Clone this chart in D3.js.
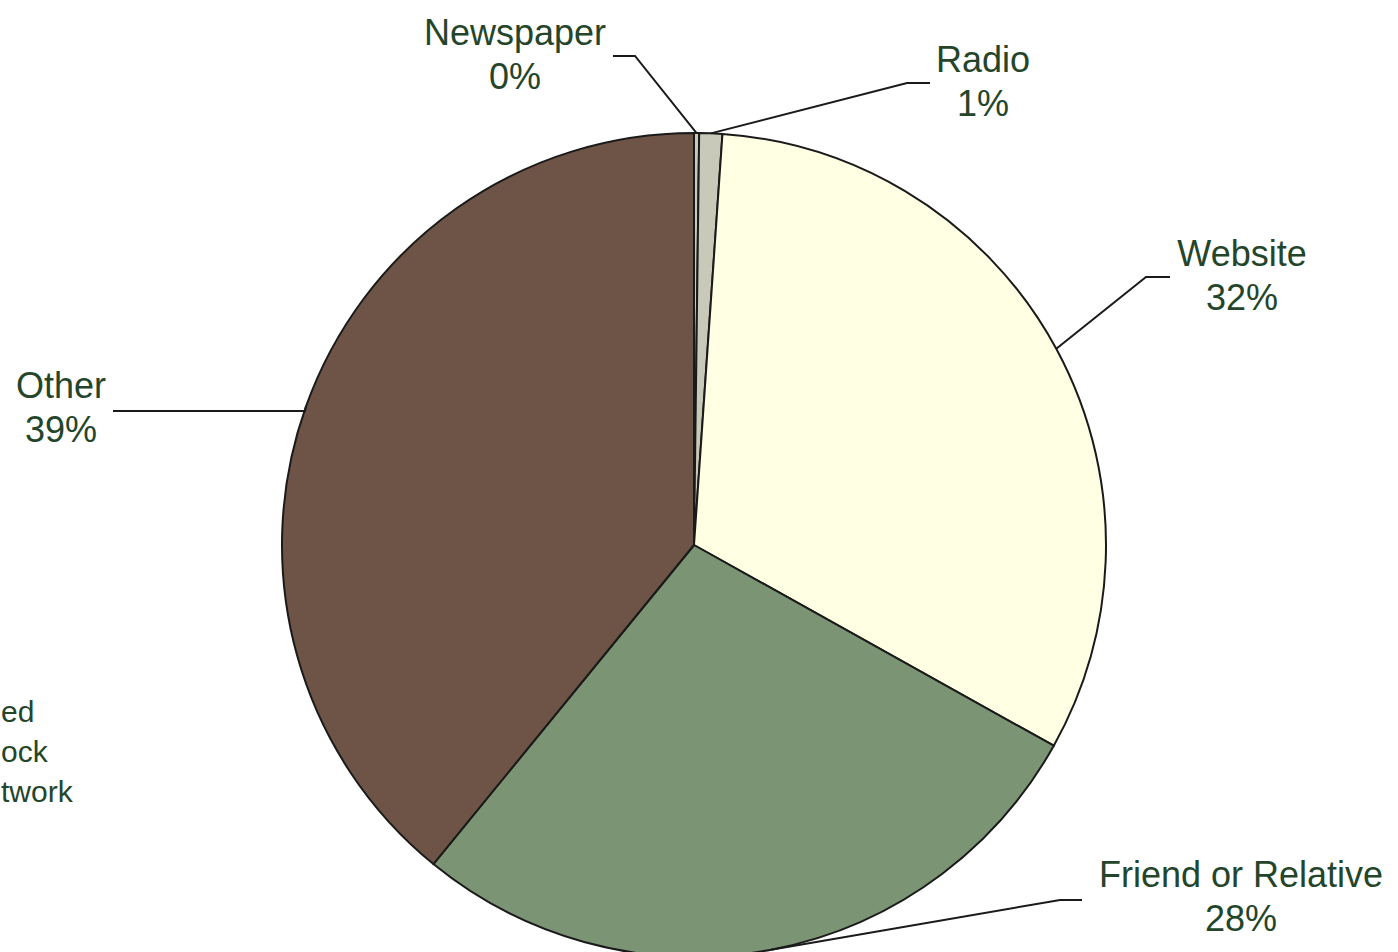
<!DOCTYPE html>
<html>
<head>
<meta charset="utf-8">
<script src="https://cdn.jsdelivr.net/npm/d3@7"></script>
<style>
  html, body { margin: 0; padding: 0; background: #ffffff; }
  svg { display: block; }
  text { font-family: "Liberation Sans", Arial, sans-serif; }
</style>
</head>
<body>
<svg id="chart" width="1398" height="952"></svg>
<script>
// ---- data ----
const categories = ["Newspaper", "Radio", "Website", "Friend or Relative", "Other"];
const values = [0.2, 0.9, 32.0, 27.8, 39.1];
const colors = ["#c9c9b9", "#c9c9b9", "#ffffe3", "#7a9474", "#6e5446"];
const noteLines = ["ed", "ock", "twork"];

// ---- layout ----
const W = 1398, H = 952;
const cx = 694, cy = 545, R = 412;
// label layout: [text center x, first baseline y, elbow x, elbow y, end x]
const labelLayout = [
  [515, 45, 635, 56, 613],
  [983, 72, 907, 83, 930],
  [1242, 266, 1146, 277, 1170],
  [1241, 887, 1060, 900, 1082],
  [61, 398, 305, 411, 113]
];
const textColor = "#24452a";
const fontSize = 36;
const lineGap = 44;

const svg = d3.select("#chart");
const g = svg.append("g").attr("transform", `translate(${cx},${cy})`);

const data = categories.map((c, i) => ({ name: c, value: values[i], color: colors[i] }));
const total = d3.sum(values);
const pie = d3.pie().sort(null).value(d => d.value);
const arcs = pie(data);
const arc = d3.arc().innerRadius(0).outerRadius(R);
const pct = d3.format(".0%");

g.selectAll("path.slice")
  .data(arcs)
  .join("path")
  .attr("class", "slice")
  .attr("d", arc)
  .attr("fill", d => d.data.color)
  .attr("stroke", "#1a1a1a")
  .attr("stroke-width", 2)
  .attr("stroke-linejoin", "round");

// leader lines and labels
arcs.forEach((a, i) => {
  const mid = (a.startAngle + a.endAngle) / 2;
  const sx = cx + R * Math.sin(mid);
  const sy = cy - R * Math.cos(mid);
  const L = labelLayout[i];
  const line = d3.line();
  svg.append("path")
    .attr("d", line([[sx, sy], [L[2], L[3]], [L[4], L[3]]]))
    .attr("fill", "none")
    .attr("stroke", "#1a1a1a")
    .attr("stroke-width", 2);
  const t = svg.append("text")
    .attr("x", L[0]).attr("y", L[1])
    .attr("text-anchor", "middle")
    .attr("font-size", fontSize)
    .attr("fill", textColor);
  t.append("tspan").attr("x", L[0]).attr("y", L[1]).text(a.data.name);
  t.append("tspan").attr("x", L[0]).attr("y", L[1] + lineGap).text(pct(a.data.value / total));
});

// note at lower left (only its visible tail in the reference)
noteLines.forEach((s, i) => {
  svg.append("text")
    .attr("x", 1)
    .attr("y", 722 + i * 40)
    .attr("text-anchor", "start")
    .attr("font-size", 30)
    .attr("fill", textColor)
    .text(s);
});
</script>
</body>
</html>
